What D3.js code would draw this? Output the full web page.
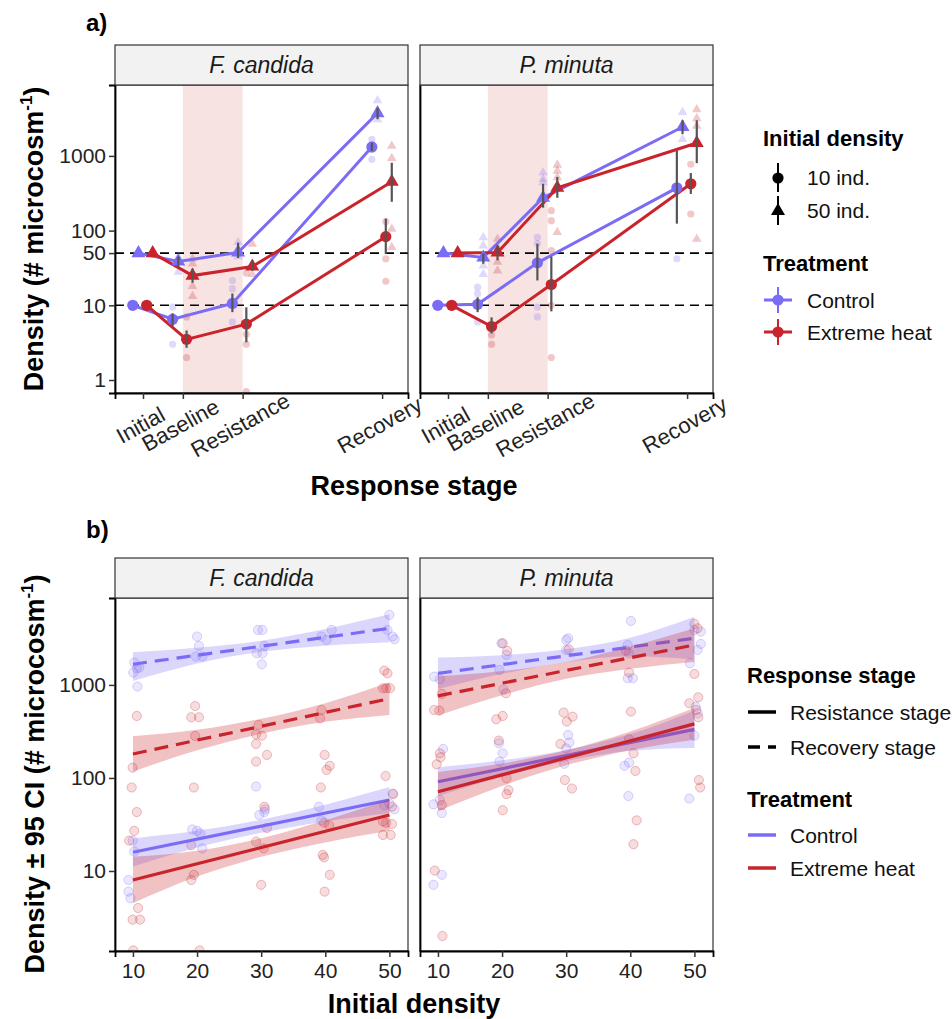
<!DOCTYPE html>
<html>
<head>
<meta charset="utf-8">
<script src="https://cdn.jsdelivr.net/npm/d3@7"></script>
<style>
body { margin: 0; background: #fff; }
svg { font-family: "Liberation Sans", Arial, sans-serif; }
</style>
</head>
<body>
<svg id="chart" width="952" height="1019"></svg>
<script>
// ----------------------------------------
// data
// ----------------------------------------

var species = ["F. candida", "P. minuta"];
var stages = ["Initial", "Baseline", "Resistance", "Recovery"];
var stageDay = [0, 14, 35, 84];
var heatWindow = [14, 35];
var refLines = [10, 50];
var yTicksA = [1, 10, 50, 100, 1000];
var yTicksB = [10, 100, 1000];
var xTicksB = [10, 20, 30, 40, 50];

// panel a : [mean, lower, upper] per stage
var fcControl10 = [[10], [6.5, 5.3, 7.8], [10.6, 8.1, 14.4], [1318, 1170, 1500]];
var fcControl50 = [[50], [38.6, 32, 45], [51, 43, 69], [3745, 3100, 4400]];
var fcHeat10 = [[10], [3.5, 2.7, 4.6], [5.6, 3.2, 9.4], [83, 49, 145]];
var fcHeat50 = [[50], [25, 20, 31], [33, 29, 40], [450, 243, 810]];
var pmControl10 = [[10], [10.3, 8.1, 12.8], [37, 21.5, 67], [374, 124, 1170]];
var pmControl50 = [[50], [43.7, 36, 49.6], [275, 203, 424], [2437, 1960, 3000]];
var pmHeat10 = [[10], [5.2, 4.2, 6.9], [19, 8.3, 45], [423, 310, 590]];
var pmHeat50 = [[50], [51, 40, 63], [374, 275, 524], [1490, 800, 3000]];

// panel a : replicates [stage index, density]
var fcControl10Raw = [[1, 9.5], [1, 3.0], [1, 7.0], [2, 21.5], [2, 16.7], [2, 6.0], [3, 1670], [3, 900], [3, 1230]];
var fcControl50Raw = [[1, 44], [1, 28], [2, 70], [2, 57], [2, 45], [3, 5525], [3, 3080]];
var fcHeat10Raw = [[1, 7.0], [1, 2.0], [2, 27], [2, 4.1], [2, 3.0], [2, 0.7], [3, 132], [3, 42], [3, 21]];
var fcHeat50Raw = [[1, 42], [1, 36], [1, 18], [1, 13.2], [2, 66], [2, 26], [3, 1360], [3, 930], [3, 105], [3, 60]];
var pmControl10Raw = [[1, 17.5], [1, 14.3], [1, 6], [2, 81], [2, 67], [2, 9.5], [2, 7], [3, 42]];
var pmControl50Raw = [[1, 81], [1, 63], [1, 34], [1, 26], [2, 600], [2, 489], [2, 441], [3, 3860], [3, 1670]];
var pmHeat10Raw = [[1, 4], [1, 3], [2, 185], [2, 136], [2, 54], [2, 10], [2, 2], [3, 774], [3, 167]];
var pmHeat50Raw = [[1, 77], [1, 60], [1, 38], [1, 29], [2, 759], [2, 631], [2, 514], [2, 95], [3, 4190], [3, 3180], [3, 2510], [3, 77]];

// panel b : fitted line at x = 10 and 50, CI at x = 10,20,30,40,50
var fitX = [10, 50];
var bandX = [10, 20, 30, 40, 50];
var fcControlRecFit = [1670, 4060];
var fcControlRecLo = [1100, 1700, 2270, 2642, 2877];
var fcControlRecHi = [2249, 2506, 2992, 4000, 5741];
var fcHeatRecFit = [181, 713];
var fcHeatRecLo = [117, 198, 299, 402, 476];
var fcHeatRecHi = [281, 329, 433, 637, 1067];
var fcControlResFit = [15.9, 58];
var fcControlResLo = [11.2, 17.9, 25.8, 34.1, 42.0];
var fcControlResHi = [22.4, 27.0, 35.6, 51.6, 80.0];
var fcHeatResFit = [8.0, 40];
var fcHeatResLo = [4.5, 8.7, 14.2, 20.3, 27.0];
var fcHeatResHi = [14.2, 16.5, 22.5, 35.2, 59.2];
var pmControlRecFit = [1330, 3180];
var pmControlRecLo = [902, 1315, 1754, 2032, 1871];
var pmControlRecHi = [1972, 2084, 2421, 3221, 5395];
var pmHeatRecFit = [762, 2690];
var pmHeatRecLo = [470, 774, 1164, 1489, 1778];
var pmHeatRecHi = [1236, 1409, 1762, 2588, 4074];
var pmControlResFit = [91, 333];
var pmControlResLo = [63.8, 103, 152, 196, 210];
var pmControlResHi = [130, 155, 200, 296, 528];
var pmHeatResFit = [71, 381];
var pmHeatResLo = [44, 82, 137, 199, 258];
var pmHeatResHi = [116, 143, 198, 316, 564];

// panel b : replicates [initial density, density]
var fcControlPts = [[10.05, 1358], [10.6, 1512], [11.0, 1536], [10.7, 960], [10.2, 1740],
	[20.0, 3311], [20.3, 2625], [19.8, 2018], [20.8, 2018],
	[29.5, 3900], [30.2, 3900], [29.3, 2188], [30.2, 2188], [30.1, 1668], [30.5, 2625],
	[39.4, 3311], [40.2, 3050], [41.0, 3900],
	[50.0, 5660], [50.5, 3311], [50.8, 3100], [49.7, 3900],
	[9.95, 21.2], [10.2, 16.2], [9.3, 8.0], [9.3, 6.0], [9.6, 5.1],
	[19.25, 28], [20.0, 27], [20.8, 17.5], [20.5, 25.4],
	[29.2, 81], [29.7, 40], [30.6, 46], [30.5, 43],
	[39.0, 49], [39.4, 35],
	[49.2, 51], [50.8, 46], [50.0, 53], [50.5, 68]];
var fcHeatPts = [[10.6, 464], [9.95, 129], [9.8, 79], [10.6, 43], [10.2, 27], [9.4, 21.2], [10.8, 4.0], [9.95, 3.0], [11.1, 3.0], [10.05, 1.4],
	[19.7, 594], [19.1, 449], [20.3, 449], [19.7, 283], [19.5, 79], [19.1, 19], [19.5, 9.1], [19.1, 8.0], [20.4, 1.4],
	[29.6, 372], [29.2, 295], [30.1, 285], [29.2, 232], [30.9, 177], [29.2, 150], [30.5, 49], [30.9, 29], [29.2, 20.7], [30.4, 17.5], [30.0, 7.1],
	[39.4, 538], [39.2, 438], [39.9, 177], [40.7, 135], [40.2, 122], [39.3, 79], [39.8, 33], [40.6, 31], [39.6, 14.9], [39.8, 14.0], [40.7, 9.1], [39.9, 6.0],
	[49.2, 1427], [49.7, 1334], [49.5, 921], [49.0, 921], [50.1, 921], [49.4, 105], [50.6, 67], [50.4, 49], [49.0, 34], [49.5, 33], [50.4, 32], [49.0, 24.4], [50.2, 24.4]];
var pmControlPts = [[9.4, 1228], [10.3, 1151], [10.8, 205], [10.3, 58], [9.3, 52], [10.6, 42], [10.6, 9.1], [9.3, 7.1],
	[19.9, 2805], [20.7, 2100], [19.6, 1450], [20.2, 898], [19.5, 236], [20.1, 184], [19.6, 150],
	[30.0, 3050], [30.3, 3177], [30.0, 2378], [30.5, 240], [30.3, 290], [30.0, 208], [29.7, 142],
	[40.1, 4875], [39.6, 2692], [39.8, 2188], [39.6, 1180], [40.4, 1180], [39.1, 135], [39.8, 146], [39.7, 64],
	[50.0, 3900], [51.0, 3742], [51.0, 2761], [50.5, 2378], [49.3, 1710], [50.2, 585], [50.5, 495], [50.0, 285], [49.2, 60]];
var pmHeatPts = [[9.4, 538], [10.2, 530], [10.6, 800], [10.3, 184], [10.4, 167], [9.8, 140], [10.6, 51], [9.5, 10.1], [10.7, 2.0],
	[20.1, 2805], [20.8, 2320], [20.6, 813], [20.1, 464], [19.1, 428], [19.5, 252], [20.7, 99], [21.0, 74], [20.7, 67], [20.1, 45],
	[30.4, 2418], [29.6, 504], [31.0, 456], [30.1, 404], [29.1, 232], [29.8, 95], [30.9, 77],
	[39.3, 2340], [39.8, 1358], [40.1, 517], [39.8, 261], [40.5, 184], [40.8, 119], [41.0, 35], [40.5, 19.4],
	[50.0, 4530], [50.5, 4064], [50.0, 1312], [50.6, 736], [49.2, 635], [50.3, 538], [50.6, 449], [50.7, 95], [50.9, 79]];

// ----------------------------------------
// main variables
// ----------------------------------------

var colControl = "#7B6CF6",
colHeat = "#C9232B";

var panelX = [[115, 408], [420, 713]];
var aTop = 85, aBottom = 393, bTop = 598, bBottom = 951, stripH = 40;

var svg = d3.select("#chart");

var yA = d3.scaleLog().domain([0.67, 8900]).range([aBottom, aTop]);
var yB = d3.scaleLog().domain([1.38, 8600]).range([bBottom, bTop]);

// dodge in days: control 10, control 50, heat 10, heat 50
var dodge = {control10: -3.6, control50: -1.6, heat10: 1.3, heat50: 3.4};

var seriesA = [
	[
		{trt: "control", dens: 10, m: fcControl10, raw: fcControl10Raw},
		{trt: "control", dens: 50, m: fcControl50, raw: fcControl50Raw},
		{trt: "heat", dens: 10, m: fcHeat10, raw: fcHeat10Raw},
		{trt: "heat", dens: 50, m: fcHeat50, raw: fcHeat50Raw}
	],
	[
		{trt: "control", dens: 10, m: pmControl10, raw: pmControl10Raw},
		{trt: "control", dens: 50, m: pmControl50, raw: pmControl50Raw},
		{trt: "heat", dens: 10, m: pmHeat10, raw: pmHeat10Raw},
		{trt: "heat", dens: 50, m: pmHeat50, raw: pmHeat50Raw}
	]
];

var seriesB = [
	[
		{trt: "control", stage: "res", fit: fcControlResFit, lo: fcControlResLo, hi: fcControlResHi},
		{trt: "control", stage: "rec", fit: fcControlRecFit, lo: fcControlRecLo, hi: fcControlRecHi},
		{trt: "heat", stage: "res", fit: fcHeatResFit, lo: fcHeatResLo, hi: fcHeatResHi},
		{trt: "heat", stage: "rec", fit: fcHeatRecFit, lo: fcHeatRecLo, hi: fcHeatRecHi}
	],
	[
		{trt: "control", stage: "res", fit: pmControlResFit, lo: pmControlResLo, hi: pmControlResHi},
		{trt: "control", stage: "rec", fit: pmControlRecFit, lo: pmControlRecLo, hi: pmControlRecHi},
		{trt: "heat", stage: "res", fit: pmHeatResFit, lo: pmHeatResLo, hi: pmHeatResHi},
		{trt: "heat", stage: "rec", fit: pmHeatRecFit, lo: pmHeatRecLo, hi: pmHeatRecHi}
	]
];
var pointsB = [
	[{trt: "control", pts: fcControlPts}, {trt: "heat", pts: fcHeatPts}],
	[{trt: "control", pts: pmControlPts}, {trt: "heat", pts: pmHeatPts}]
];

function col(trt) { return trt == "control" ? colControl : colHeat; }

function styleAxis(g) {
	g.select(".domain").attr("stroke", "#000").attr("stroke-width", 1.8);
	g.selectAll(".tick line").attr("stroke", "#333").attr("stroke-width", 1.5);
	g.selectAll(".tick text").attr("fill", "#222").style("font-size", "21px");
}

function strip(x0, x1, top, label) {
	svg.append("rect")
		.attr("x", x0).attr("y", top - stripH)
		.attr("width", x1 - x0).attr("height", stripH)
		.attr("fill", "#F2F2F2").attr("stroke", "#333").attr("stroke-width", 1.2);
	svg.append("text")
		.attr("x", (x0 + x1) / 2).attr("y", top - stripH / 2 + 8)
		.attr("text-anchor", "middle")
		.style("font-size", "23px").style("font-style", "italic")
		.attr("fill", "#1a1a1a")
		.text(label);
}

// ----------------------------------------
// panel a
// ----------------------------------------

function panelA(i) {
	var x0 = panelX[i][0], x1 = panelX[i][1];
	var x = d3.scaleLinear().domain([-9.84, 93.1]).range([x0, x1]);

	svg.append("clipPath").attr("id", "clipA" + i)
		.append("rect").attr("x", x0).attr("y", aTop).attr("width", x1 - x0).attr("height", aBottom - aTop);

	var plot = svg.append("g").attr("clip-path", "url(#clipA" + i + ")");

	plot.append("rect")
		.attr("x", x(heatWindow[0])).attr("y", aTop)
		.attr("width", x(heatWindow[1]) - x(heatWindow[0])).attr("height", aBottom - aTop)
		.attr("fill", "#F8E3E3");

	plot.selectAll(".ref").data(refLines).enter().append("line")
		.attr("x1", x0).attr("x2", x1)
		.attr("y1", function(d) { return yA(d); }).attr("y2", function(d) { return yA(d); })
		.attr("stroke", "#000").attr("stroke-width", 1.6).attr("stroke-dasharray", "9,6");

	var triBig = d3.symbol(d3.symbolTriangle).size(85)(),
	triSmall = d3.symbol(d3.symbolTriangle).size(40)();

	seriesA[i].forEach(function(s) {
		var off = dodge[s.trt + s.dens];
		var c = col(s.trt);
		// replicates
		s.raw.forEach(function(r) {
			var px = x(stageDay[r[0]] + off), py = yA(r[1]);
			if (s.dens == 10) {
				plot.append("circle").attr("cx", px).attr("cy", py).attr("r", 3.6)
					.attr("fill", c).attr("opacity", 0.25);
			} else {
				plot.append("path").attr("d", triSmall)
					.attr("transform", "translate(" + px + "," + py + ")")
					.attr("fill", c).attr("opacity", 0.25);
			}
		});
	});

	seriesA[i].forEach(function(s) {
		var off = dodge[s.trt + s.dens];
		var line = d3.line()
			.x(function(d, k) { return x(stageDay[k] + off); })
			.y(function(d) { return yA(d[0]); });
		plot.append("path").datum(s.m)
			.attr("d", line).attr("fill", "none")
			.attr("stroke", col(s.trt)).attr("stroke-width", 3);
	});

	seriesA[i].forEach(function(s) {
		var off = dodge[s.trt + s.dens];
		s.m.forEach(function(d, k) {
			var px = x(stageDay[k] + off), py = yA(d[0]);
			if (s.dens == 10) {
				plot.append("circle").attr("cx", px).attr("cy", py).attr("r", 5.6).attr("fill", col(s.trt));
			} else {
				plot.append("path").attr("d", triBig)
					.attr("transform", "translate(" + px + "," + py + ")")
					.attr("fill", col(s.trt));
			}
		});
	});

	seriesA[i].forEach(function(s) {
		var off = dodge[s.trt + s.dens];
		s.m.forEach(function(d, k) {
			if (d.length < 3) return;
			plot.append("line")
				.attr("x1", x(stageDay[k] + off)).attr("x2", x(stageDay[k] + off))
				.attr("y1", yA(d[1])).attr("y2", yA(d[2]))
				.attr("stroke", "#555").attr("stroke-width", 2.2);
		});
	});

	svg.append("rect").attr("x", x0).attr("y", aTop)
		.attr("width", x1 - x0).attr("height", aBottom - aTop)
		.attr("fill", "none").attr("stroke", "#333").attr("stroke-width", 1.2);

	var gx = svg.append("g")
		.attr("transform", "translate(0," + aBottom + ")")
		.call(d3.axisBottom(x).tickValues(stageDay).tickSizeOuter(0).tickSize(6)
			.tickFormat(function(d, k) { return stages[k]; }));
	styleAxis(gx);
	gx.selectAll(".tick text")
		.style("font-size", "22px")
		.attr("y", 0).attr("dy", "0.35em")
		.attr("transform", "translate(-3,32) rotate(-29)");

	var gy = svg.append("g").attr("transform", "translate(" + x0 + ",0)");
	if (i == 0) {
		gy.call(d3.axisLeft(yA).tickValues(yTicksA).tickSizeOuter(0).tickSize(6).tickFormat(d3.format("d")));
	} else {
		gy.call(d3.axisLeft(yA).tickValues([]).tickSizeOuter(0));
	}
	styleAxis(gy);

	strip(x0, x1, aTop, species[i]);
}

// ----------------------------------------
// panel b
// ----------------------------------------

function panelB(i) {
	var x0 = panelX[i][0], x1 = panelX[i][1];
	var x = d3.scaleLinear().domain([7.2, 52.9]).range([x0, x1]);

	svg.append("clipPath").attr("id", "clipB" + i)
		.append("rect").attr("x", x0).attr("y", bTop).attr("width", x1 - x0).attr("height", bBottom - bTop);

	var plot = svg.append("g").attr("clip-path", "url(#clipB" + i + ")");

	pointsB[i].forEach(function(s) {
		plot.selectAll(null).data(s.pts).enter().append("circle")
			.attr("cx", function(d) { return x(d[0]); })
			.attr("cy", function(d) { return yB(d[1]); })
			.attr("r", 4.6)
			.attr("fill", col(s.trt)).attr("fill-opacity", 0.16)
			.attr("stroke", col(s.trt)).attr("stroke-opacity", 0.28).attr("stroke-width", 1);
	});

	var area = d3.area()
		.x(function(d) { return x(d[0]); })
		.y0(function(d) { return yB(d[1]); })
		.y1(function(d) { return yB(d[2]); })
		.curve(d3.curveMonotoneX);

	var line = d3.line()
		.x(function(d) { return x(d[0]); })
		.y(function(d) { return yB(d[1]); });

	seriesB[i].forEach(function(s) {
		var band = bandX.map(function(v, k) { return [v, s.lo[k], s.hi[k]]; });
		plot.append("path").datum(band)
			.attr("d", area).attr("fill", col(s.trt)).attr("fill-opacity", 0.28);
		var fit = fitX.map(function(v, k) { return [v, s.fit[k]]; });
		plot.append("path").datum(fit)
			.attr("d", line).attr("fill", "none")
			.attr("stroke", col(s.trt)).attr("stroke-width", 3.2)
			.attr("stroke-dasharray", s.stage == "rec" ? "14,8" : null);
	});

	svg.append("rect").attr("x", x0).attr("y", bTop)
		.attr("width", x1 - x0).attr("height", bBottom - bTop)
		.attr("fill", "none").attr("stroke", "#333").attr("stroke-width", 1.2);

	var gx = svg.append("g")
		.attr("transform", "translate(0," + bBottom + ")")
		.call(d3.axisBottom(x).tickValues(xTicksB).tickSizeOuter(0).tickSize(6));
	styleAxis(gx);
	gx.selectAll(".tick text").attr("y", 12);

	var gy = svg.append("g").attr("transform", "translate(" + x0 + ",0)");
	if (i == 0) {
		gy.call(d3.axisLeft(yB).tickValues(yTicksB).tickSizeOuter(0).tickSize(6).tickFormat(d3.format("d")));
	} else {
		gy.call(d3.axisLeft(yB).tickValues([]).tickSizeOuter(0));
	}
	styleAxis(gy);

	strip(x0, x1, bTop, species[i]);
}

panelA(0); panelA(1);
panelB(0); panelB(1);

// ----------------------------------------
// titles
// ----------------------------------------

function boldText(x, y, t, size, anchor) {
	return svg.append("text").attr("x", x).attr("y", y)
		.attr("text-anchor", anchor || "start")
		.style("font-size", size + "px").style("font-weight", "bold")
		.attr("fill", "#000").text(t);
}

boldText(86, 31, "a)", 24);
boldText(86, 538, "b)", 24);
boldText(414, 495, "Response stage", 27, "middle");
boldText(414, 1013, "Initial density", 27, "middle");

function yTitle(xb, yc, main) {
	var t = svg.append("text")
		.attr("transform", "translate(" + xb + "," + yc + ") rotate(-90)")
		.attr("text-anchor", "middle")
		.style("font-size", "27px").style("font-weight", "bold");
	t.append("tspan").text(main);
	t.append("tspan").attr("dy", "-11").style("font-size", "17px").text("-1");
	t.append("tspan").attr("dy", "11").text(")");
}
yTitle(43, 239, "Density (# microcosm");
yTitle(44, 774, "Density \u00B1 95 CI (# microcosm");

// ----------------------------------------
// legends
// ----------------------------------------

function label(x, y, t) {
	svg.append("text").attr("x", x).attr("y", y)
		.style("font-size", "21px").attr("fill", "#111").text(t);
}

// legend a
boldText(763, 146, "Initial density", 22);
var lgA = [{t: "10 ind.", y: 178, shape: "circle"}, {t: "50 ind.", y: 211, shape: "tri"}];
lgA.forEach(function(d) {
	svg.append("line").attr("x1", 778).attr("x2", 778).attr("y1", d.y - 15).attr("y2", d.y + 14)
		.attr("stroke", "#000").attr("stroke-width", 2);
	if (d.shape == "circle") {
		svg.append("circle").attr("cx", 778).attr("cy", d.y).attr("r", 5.6).attr("fill", "#000");
	} else {
		svg.append("path").attr("d", d3.symbol(d3.symbolTriangle).size(85)())
			.attr("transform", "translate(778," + d.y + ")").attr("fill", "#000");
	}
	label(807, d.y + 7, d.t);
});

boldText(763, 271, "Treatment", 22);
var lgT = [{t: "Control", y: 300, trt: "control"}, {t: "Extreme heat", y: 332, trt: "heat"}];
lgT.forEach(function(d) {
	svg.append("line").attr("x1", 764).attr("x2", 792).attr("y1", d.y).attr("y2", d.y)
		.attr("stroke", col(d.trt)).attr("stroke-width", 3);
	svg.append("line").attr("x1", 778).attr("x2", 778).attr("y1", d.y - 13).attr("y2", d.y + 13)
		.attr("stroke", col(d.trt)).attr("stroke-width", 2);
	svg.append("circle").attr("cx", 778).attr("cy", d.y).attr("r", 5.6).attr("fill", col(d.trt));
	label(807, d.y + 8, d.t);
});

// legend b
boldText(747, 683, "Response stage", 22);
var lgS = [{t: "Resistance stage", y: 712, dash: null}, {t: "Recovery stage", y: 747, dash: "12,8"}];
lgS.forEach(function(d) {
	svg.append("line").attr("x1", 748).attr("x2", 776).attr("y1", d.y).attr("y2", d.y)
		.attr("stroke", "#000").attr("stroke-width", 3.5).attr("stroke-dasharray", d.dash);
	label(790, d.y + 8, d.t);
});

boldText(747, 807, "Treatment", 22);
var lgT2 = [{t: "Control", y: 835, trt: "control"}, {t: "Extreme heat", y: 868, trt: "heat"}];
lgT2.forEach(function(d) {
	svg.append("line").attr("x1", 748).attr("x2", 776).attr("y1", d.y).attr("y2", d.y)
		.attr("stroke", col(d.trt)).attr("stroke-width", 3.5);
	label(790, d.y + 8, d.t);
});
</script>
</body>
</html>
